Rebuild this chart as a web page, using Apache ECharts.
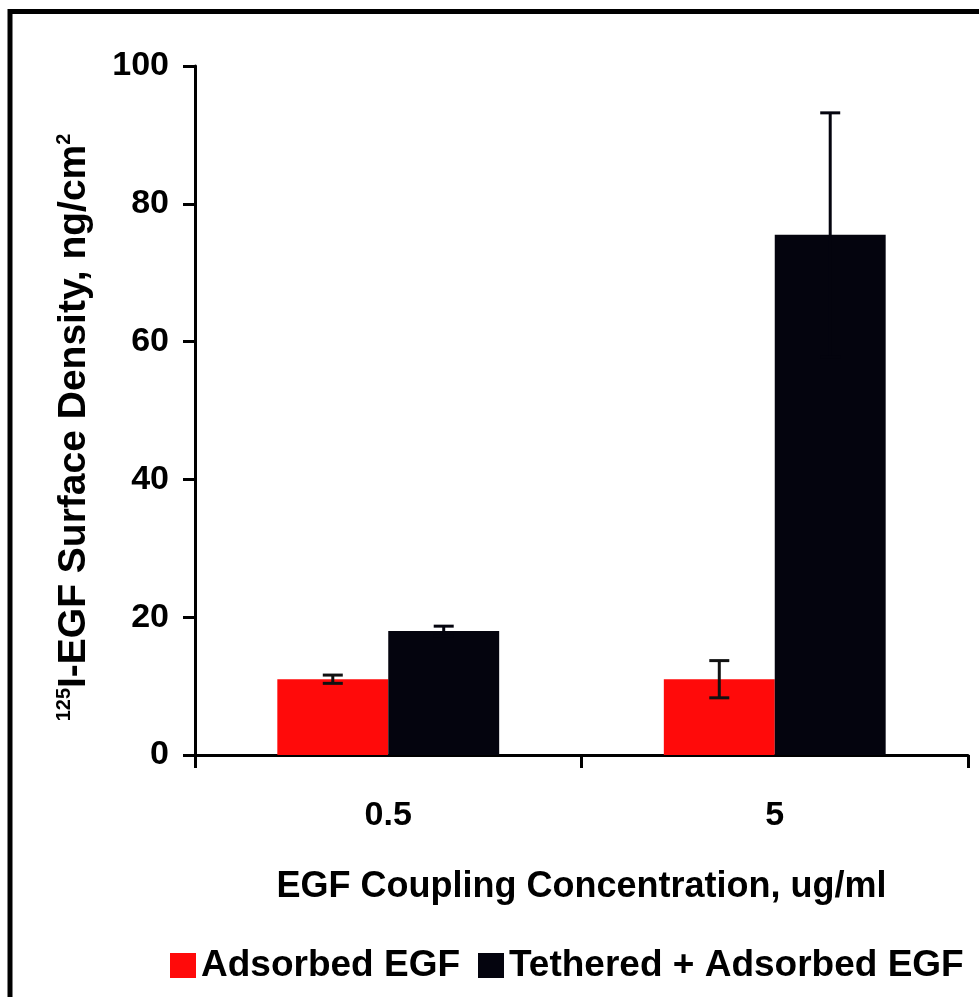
<!DOCTYPE html>
<html>
<head>
<meta charset="utf-8">
<script src="https://cdn.jsdelivr.net/npm/echarts@6/dist/echarts.min.js"></script>
<style>
  html, body { margin: 0; padding: 0; background: #fff; }
  #main { width: 979px; height: 997px; }
</style>
</head>
<body>
<div id="main"></div>
<script>
// categories and values
const categories = ['0.5', '5']
const seriesNames = ['Adsorbed EGF', 'Tethered + Adsorbed EGF']
const adsorbed = [11.0, 11.0]
const adsorbedErr = [0.6, 2.7]
const tethered = [18.0, 75.5]
const tetheredErr = [0.7, 17.7]
const yTicks = [0, 20, 40, 60, 80, 100]

const FONT = 'Liberation Sans, Arial, sans-serif'
const GAP = 0.426
const RED = '#ff0a0a'
const DARK = '#04040e'

// error bars: [category index, low, high]
function errData (vals, errs) {
  return vals.map((v, i) => [i, v - errs[i], v + errs[i]])
}

function errorRender (side, color) {
  return function (params, api) {
    const band = api.size([1, 0])[0]
    const off = side * band * (1 - GAP) / 4
    const hi = api.coord([api.value(0), api.value(2)])
    const lo = api.coord([api.value(0), api.value(1)])
    const x = hi[0] + off
    const cap = 10
    const style = { stroke: color, lineWidth: 3 }
    return {
      type: 'group',
      children: [
        { type: 'line', shape: { x1: x, y1: hi[1], x2: x, y2: lo[1] }, style: style },
        { type: 'line', shape: { x1: x - cap, y1: hi[1], x2: x + cap, y2: hi[1] }, style: style },
        { type: 'line', shape: { x1: x - cap, y1: lo[1], x2: x + cap, y2: lo[1] }, style: style }
      ]
    }
  }
}

const myChart = echarts.init(document.getElementById('main'))

myChart.setOption({
  backgroundColor: '#fff',
  animation: false,
  textStyle: { fontFamily: FONT },
  graphic: [
    {
      type: 'rect',
      shape: { x: 10, y: 11.5, width: 1100, height: 1100 },
      style: { fill: 'none', stroke: '#000', lineWidth: 5 },
      z: 100
    }
  ],
  grid: { left: 195, right: 11, top: 66, bottom: 242 },
  legend: {
    data: seriesNames,
    left: 165,
    top: 942,
    itemWidth: 26,
    itemHeight: 25,
    itemGap: 18,
    icon: 'rect',
    textStyle: { fontFamily: FONT, fontSize: 37, fontWeight: 'bold', color: '#000' }
  },
  xAxis: {
    type: 'category',
    data: categories,
    name: 'EGF Coupling Concentration, ug/ml',
    nameLocation: 'middle',
    nameGap: 114,
    nameTextStyle: { fontFamily: FONT, fontSize: 36, fontWeight: 'bold', color: '#000' },
    axisLine: { lineStyle: { color: '#000', width: 3 } },
    axisTick: { show: true, length: 13, interval: 0, lineStyle: { color: '#000', width: 3 } },
    axisLabel: { margin: 44, fontFamily: FONT, fontSize: 34, fontWeight: 'bold', color: '#000' }
  },
  yAxis: {
    type: 'value',
    min: yTicks[0],
    max: yTicks[yTicks.length - 1],
    interval: 20,
    name: '{s|125}{t|I-EGF Surface Density, ng/cm}{s|2}',
    nameLocation: 'middle',
    nameGap: 101,
    nameRotate: 90,
    nameTextStyle: {
      color: '#000',
      padding: [0, 34, 0, 0],
      rich: {
        s: { fontFamily: FONT, fontSize: 20, fontWeight: 'bold', verticalAlign: 'top', lineHeight: 40, color: '#000' },
        t: { fontFamily: FONT, fontSize: 39, fontWeight: 'bold', lineHeight: 40, color: '#000' }
      }
    },
    axisLine: { show: true, lineStyle: { color: '#000', width: 3 } },
    axisTick: { show: true, length: 12, lineStyle: { color: '#000', width: 3 } },
    splitLine: { show: false },
    axisLabel: { margin: 26, fontFamily: FONT, fontSize: 34, fontWeight: 'bold', color: '#000' }
  },
  series: [
    {
      name: seriesNames[0],
      type: 'bar',
      data: adsorbed,
      barGap: '0%',
      barCategoryGap: (GAP * 100) + '%',
      itemStyle: { color: RED }
    },
    {
      name: seriesNames[1],
      type: 'bar',
      data: tethered,
      itemStyle: { color: DARK }
    },
    {
      type: 'custom',
      renderItem: errorRender(-1, '#111'),
      data: errData(adsorbed, adsorbedErr),
      z: 10
    },
    {
      type: 'custom',
      renderItem: errorRender(1, DARK),
      data: errData(tethered, tetheredErr),
      z: 10
    }
  ]
})
</script>
</body>
</html>
